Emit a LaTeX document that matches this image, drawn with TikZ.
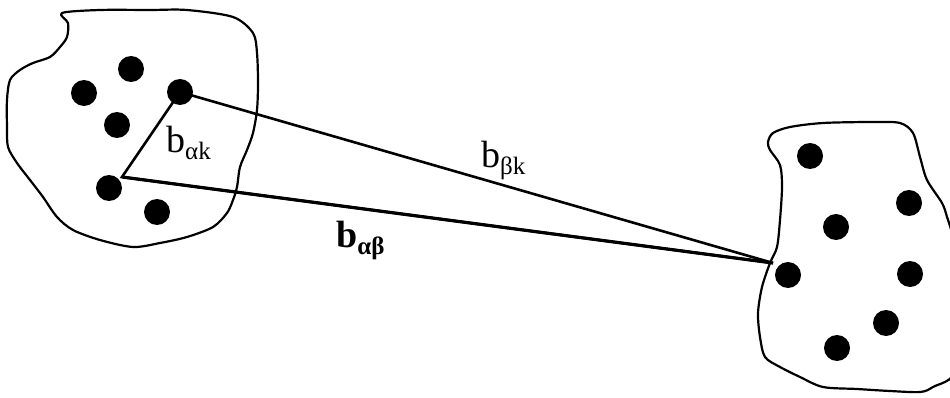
\documentclass[tikz,border=0pt]{standalone}
\usepackage{fontspec}
\setmainfont{Liberation Serif}
\begin{document}
\begin{tikzpicture}[x=1pt,y=-1pt,
  dot/.style={circle,fill=black,inner sep=0pt,minimum size=26pt},
  blob/.style={line width=2.2pt,line join=round},
  conn/.style={line width=2.6pt},
  lbl/.style={inner sep=0pt,anchor=base west,font=\fontsize{38}{40}\selectfont}]
\newcommand{\lblsub}[1]{\raisebox{-7pt}{\fontsize{25}{27}\selectfont #1}}
\useasboundingbox (0,0) rectangle (950,398);
\begin{scope}
\clip (0,0) rectangle (950,398);
% left blob
\draw[blob] plot[smooth cycle,tension=0.5] coordinates {
(62,13) (100,10) (150,10) (187,10) (233,17) (253,33) (257,53) (258,83) (257,110)
(253,133) (247,150) (240,167) (237,187) (233,200) (227,213) (213,227) (187,237)
(160,243) (133,247) (100,240) (73,230) (57,217) (43,197) (30,180) (17,163)
(8,147) (7,127) (7,100) (10,80) (20,70) (33,63) (50,57) (60,47) (67,37) (68,23)};
% right blob
\draw[blob] plot[smooth cycle,tension=0.5] coordinates {
(770,150) (768,142) (773,133) (790,127) (823,123) (873,122) (900,123) (913,133)
(920,157) (927,180) (942,203) (947,217) (953,240) (957,300) (956,370) (933,387)
(920,392) (890,391) (857,389) (823,387) (800,377) (780,367) (765,357) (760,337)
(758,313) (762,287) (770,263) (777,247) (780,220) (782,187) (780,165)};
\end{scope}
% left dots
\node[dot] (l1) at (131,69) {};
\node[dot] (l2) at (84,93) {};
\node[dot] (k) at (180,92) {};
\node[dot] (l4) at (117,125) {};
\node[dot] (a) at (109,188) {};
\node[dot] (l6) at (157,212) {};
% right dots
\node[dot] (r1) at (810,156) {};
\node[dot] (r2) at (909,203) {};
\node[dot] (r3) at (836,227) {};
\node[dot] (b) at (788,275) {};
\node[dot] (r5) at (910,274) {};
\node[dot] (r6) at (886,323) {};
\node[dot] (r7) at (837,348) {};
% connectors
\coordinate (v) at (122,177);
\coordinate (p) at (773,263);
\draw[conn,line join=miter] (k.center) -- (v) -- (p);
\draw[conn] (k.center) -- (p);
\draw[line width=3.2pt] (v) -- (p);
% labels
\node[lbl] (t1) at (166,153) {b\lblsub{αk}};
\node[lbl] (t2) at (481,168) {b\lblsub{βk}};
\node[lbl] (t3) at (336,247) {\bfseries b\lblsub{\bfseries αβ}};
\end{tikzpicture}
\end{document}
